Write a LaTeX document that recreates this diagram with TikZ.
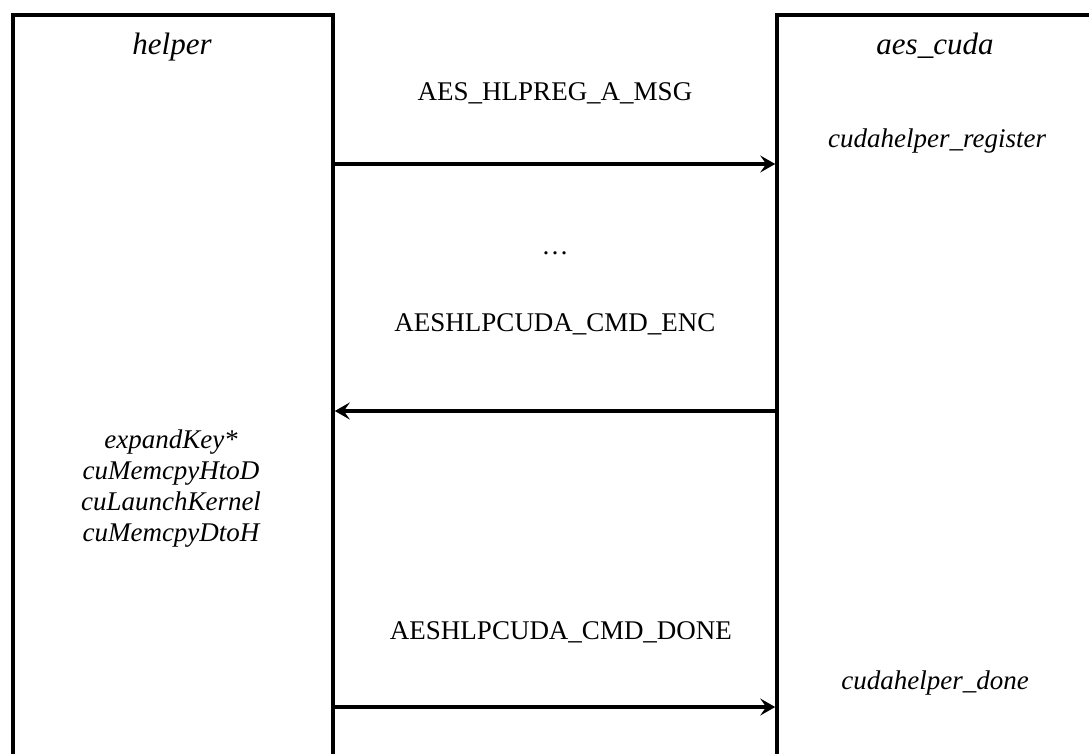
\documentclass[tikz,border=0pt]{standalone}
\usepackage{fontspec}
\setmainfont{Liberation Serif}
\usetikzlibrary{arrows.meta}
\begin{document}
\begin{tikzpicture}[x=1pt,y=-1pt,
  module/.style={draw=black,line width=3.6pt,rectangle,inner sep=0pt},
  title/.style={font=\fontsize{31}{34}\selectfont\itshape,anchor=base,inner sep=0pt},
  msg/.style={font=\fontsize{27}{30}\selectfont,anchor=base,inner sep=0pt},
  fn/.style={font=\fontsize{27}{31}\selectfont\itshape,anchor=base,inner sep=0pt},
  call/.style={line width=3.6pt,-{Stealth[length=15pt,width=17pt,inset=6pt]}}]
  \useasboundingbox (0,0) rectangle (1089,754);
  \clip (0,0) rectangle (1089,754);
  % the two communicating modules (they run past the lower and right edges)
  \node[module,minimum width=320pt,minimum height=780pt] (helper) at (173,405) {};
  \node[module,minimum width=330pt,minimum height=780pt] (aes) at (942,405) {};
  % module names
  \node[title] (helpername) at (172,55) {helper};
  \node[title] (aesname) at (935,55) {aes\_cuda};
  % message labels
  \node[msg] (m1) at (555,101) {AES\_HLPREG\_A\_MSG};
  \node[msg] (dots) at (555,254) {\dots};
  \node[msg] (m2) at (555,331) {AESHLPCUDA\_CMD\_ENC};
  \node[msg] (m3) at (561,639) {AESHLPCUDA\_CMD\_DONE};
  % functions on each side
  \node[fn] (reg) at (937,148) {cudahelper\_register};
  \node[fn] (done) at (935,689) {cudahelper\_done};
  \node[fn,align=center,anchor=north] (work) at (171,430)
    {expandKey*\\cuMemcpyHtoD\\cuLaunchKernel\\cuMemcpyDtoH};
  % message arrows
  \coordinate (y1) at (0,164);
  \coordinate (y2) at (0,411);
  \coordinate (y3) at (0,707);
  \draw[call] (helper.east |- y1) -- (aes.west |- y1);
  \draw[call] (aes.west |- y2) -- (helper.east |- y2);
  \draw[call] (helper.east |- y3) -- (aes.west |- y3);
\end{tikzpicture}
\end{document}
